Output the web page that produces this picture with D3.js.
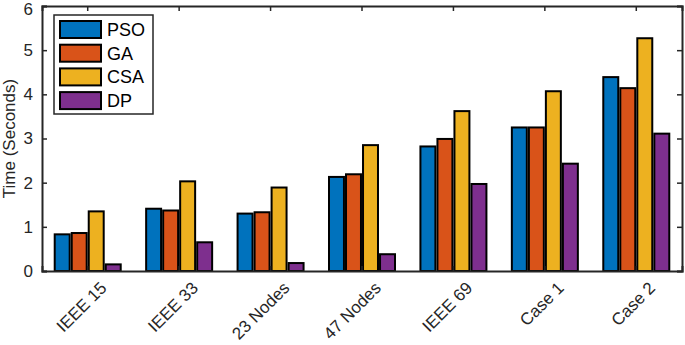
<!DOCTYPE html>
<html>
<head>
<meta charset="utf-8">
<script src="https://cdn.jsdelivr.net/npm/d3@7"></script>
<style>
  body { margin: 0; background: #fff; }
  svg { font-family: "Liberation Sans", Arial, sans-serif; }
</style>
</head>
<body>
<div id="chart"></div>
<script>
// data
const categories = ["IEEE 15", "IEEE 33", "23 Nodes", "47 Nodes", "IEEE 69", "Case 1", "Case 2"];
const seriesNames = ["PSO", "GA", "CSA", "DP"];
const pso = [0.83, 1.41, 1.30, 2.13, 2.82, 3.25, 4.39];
const ga  = [0.86, 1.37, 1.33, 2.19, 2.99, 3.25, 4.14];
const csa = [1.35, 2.03, 1.89, 2.85, 3.62, 4.07, 5.27];
const dp  = [0.15, 0.65, 0.18, 0.38, 1.97, 2.43, 3.11];
const yTicks = [0, 1, 2, 3, 4, 5, 6];
const colors = ["#0072BD", "#D95319", "#EDB120", "#7E2F8E"];

const allSeries = [pso, ga, csa, dp];

const W = 685, H = 345;
const margin = { top: 6, right: 3, bottom: 74, left: 42 };
const width = W - margin.left - margin.right;
const height = H - margin.top - margin.bottom;
const axisColor = "#262626";

const svg = d3.select("#chart").append("svg")
    .attr("width", W)
    .attr("height", H);

const g = svg.append("g")
    .attr("transform", `translate(${margin.left},${margin.top})`);

const x = d3.scaleBand().domain(categories).range([0, width]).padding(0);
const xInner = d3.scaleBand().domain(seriesNames).range([-33, 33]).paddingInner(0.12);
const y = d3.scaleLinear().domain([0, 6]).range([height, 0]);

// bars
const groups = g.selectAll("g.cat")
    .data(categories)
    .join("g")
    .attr("class", "cat")
    .attr("transform", d => `translate(${x(d) + x.bandwidth() / 2},0)`);

groups.selectAll("rect")
    .data((d, i) => seriesNames.map((s, j) => ({ s, j, v: allSeries[j][i] })))
    .join("rect")
    .attr("x", d => xInner(d.s))
    .attr("width", xInner.bandwidth())
    .attr("y", d => y(d.v))
    .attr("height", d => y(0) - y(d.v))
    .attr("fill", d => colors[d.j])
    .attr("stroke", "#000")
    .attr("stroke-width", 2);

// axes box
const fontSize = 17;
const yAxis = g.append("g")
    .call(d3.axisLeft(y).tickValues(yTicks).tickSize(-5).tickPadding(9).tickFormat(d3.format("d")));
const yAxisR = g.append("g")
    .attr("transform", `translate(${width},0)`)
    .call(d3.axisRight(y).tickValues(yTicks).tickSize(-5).tickFormat(""));
const xAxis = g.append("g")
    .attr("transform", `translate(0,${height})`)
    .call(d3.axisBottom(x).tickSize(-5).tickFormat(""));
const xAxisT = g.append("g")
    .call(d3.axisTop(x).tickSize(-5).tickFormat(""));

[yAxis, yAxisR, xAxis, xAxisT].forEach(a => {
    a.select(".domain").attr("stroke", axisColor).attr("stroke-width", 2);
    a.selectAll(".tick line").attr("stroke", axisColor).attr("stroke-width", 1.5);
    a.selectAll(".tick text").attr("fill", axisColor).style("font-size", fontSize + "px");
});
// keep the top label inside the picture
yAxis.selectAll(".tick text").filter(d => d === 6).attr("dy", "0.5em");

// rotated category labels
g.append("g").selectAll("text")
    .data(categories)
    .join("text")
    .attr("transform", d => `translate(${x(d) + x.bandwidth() / 2 + 11},${height + 9}) rotate(-45)`)
    .attr("text-anchor", "end")
    .attr("dy", "0.75em")
    .attr("fill", axisColor)
    .style("font-size", fontSize + "px")
    .text(d => d);

// y label
svg.append("text")
    .attr("transform", `translate(15,${margin.top + height / 2}) rotate(-90)`)
    .attr("text-anchor", "middle")
    .attr("fill", axisColor)
    .style("font-size", fontSize + "px")
    .text("Time (Seconds)");

// legend
const legend = g.append("g").attr("transform", "translate(12,9)");
legend.append("rect")
    .attr("width", 99)
    .attr("height", 99)
    .attr("fill", "#fff")
    .attr("stroke", axisColor)
    .attr("stroke-width", 1.5);

const items = legend.selectAll("g.item")
    .data(seriesNames)
    .join("g")
    .attr("class", "item")
    .attr("transform", (d, i) => `translate(6,${6 + i * 23.7})`);

items.append("rect")
    .attr("width", 41)
    .attr("height", 17)
    .attr("fill", (d, i) => colors[i])
    .attr("stroke", "#000")
    .attr("stroke-width", 2);

items.append("text")
    .attr("x", 47)
    .attr("y", 8.5)
    .attr("dy", "0.36em")
    .attr("fill", "#000")
    .style("font-size", "18px")
    .text(d => d);
</script>
</body>
</html>
